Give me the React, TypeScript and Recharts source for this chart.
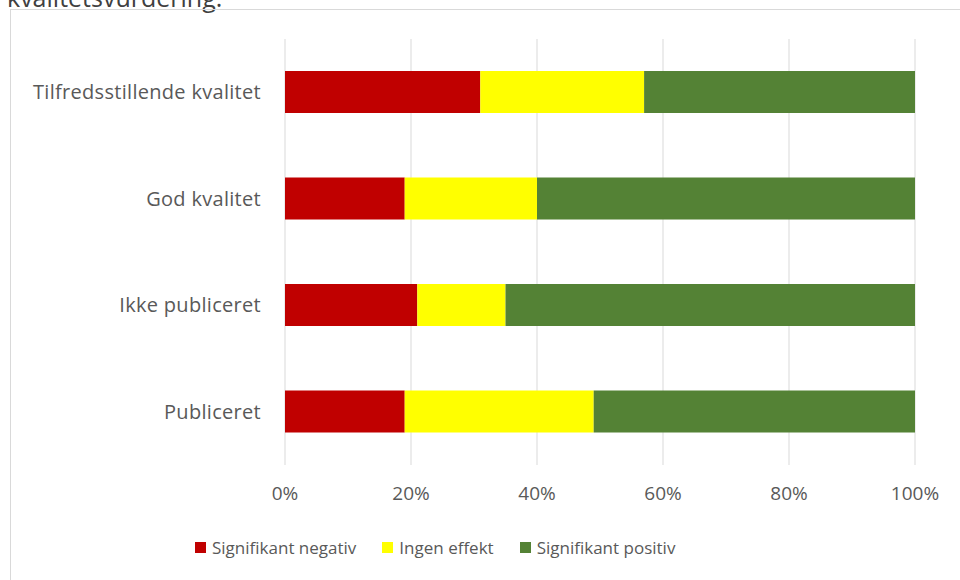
import { Bar, BarChart, CartesianGrid, Legend, XAxis, YAxis } from "recharts";

const categories = [
  "Tilfredsstillende kvalitet",
  "God kvalitet",
  "Ikke publiceret",
  "Publiceret",
];
const negativ = [31, 19, 21, 19];
const ingen = [26, 21, 14, 30];
const positiv = [43, 60, 65, 51];
const xTicks = [0, 20, 40, 60, 80, 100];

const series = [
  { key: "negativ", name: "Signifikant negativ", color: "#c00000" },
  { key: "ingen", name: "Ingen effekt", color: "#ffff00" },
  { key: "positiv", name: "Signifikant positiv", color: "#548235" },
];

const data = categories.map((name, i) => ({
  name,
  negativ: negativ[i],
  ingen: ingen[i],
  positiv: positiv[i],
}));

const font = "'Open Sans', 'Noto Sans', sans-serif";
const textColor = "#595959";

function LegendContent() {
  return (
    <div style={{ display: "flex", fontFamily: font, fontSize: 17, color: textColor }}>
      {series.map((s) => (
        <div key={s.key} style={{ display: "flex", alignItems: "center", marginRight: 26 }}>
          <span style={{ width: 11, height: 11, background: s.color, marginRight: 6, display: "inline-block" }} />
          {s.name}
        </div>
      ))}
    </div>
  );
}

export default function App() {
  return (
    <div
      style={{
        position: "fixed",
        left: 0,
        top: 0,
        width: 960,
        height: 580,
        overflow: "hidden",
        background: "#fff",
      }}
    >
      <div
        style={{
          position: "absolute",
          left: 7,
          top: -15,
          fontFamily: font,
          fontSize: 25,
          lineHeight: "25px",
          color: "#404040",
          whiteSpace: "nowrap",
        }}
      >
        kvalitetsvurdering.
      </div>
      <div
        style={{
          position: "absolute",
          left: 10,
          top: 9,
          width: 960,
          height: 600,
          border: "1px solid #d9d9d9",
        }}
      />
      <div style={{ position: "absolute", left: 0, top: 0 }}>
        <BarChart
          width={960}
          height={580}
          data={data}
          layout="vertical"
          barSize={42}
          margin={{ top: 39, right: 45, bottom: 85, left: 0 }}
        >
          <CartesianGrid horizontal={false} stroke="#d9d9d9" />
          <XAxis
            type="number"
            domain={[0, 100]}
            ticks={xTicks}
            tickFormatter={(v) => `${v}%`}
            axisLine={false}
            tickLine={false}
            tickSize={0}
            tickMargin={22}
            tick={{ fill: textColor, fontSize: 19, fontFamily: font }}
          />
          <YAxis
            type="category"
            dataKey="name"
            width={285}
            axisLine={false}
            tickLine={false}
            tickSize={0}
            tickMargin={24}
            tick={{ fill: textColor, fontSize: 20, fontFamily: font, letterSpacing: 0.3 }}
          />
          {series.map((s) => (
            <Bar
              key={s.key}
              dataKey={s.key}
              name={s.name}
              stackId="a"
              fill={s.color}
              isAnimationActive={false}
            />
          ))}
          <Legend
            verticalAlign="middle"
            align="center"
            content={<LegendContent />}
            wrapperStyle={{ left: 195, top: 536, width: "auto", height: 24 }}
          />
        </BarChart>
      </div>
    </div>
  );
}
